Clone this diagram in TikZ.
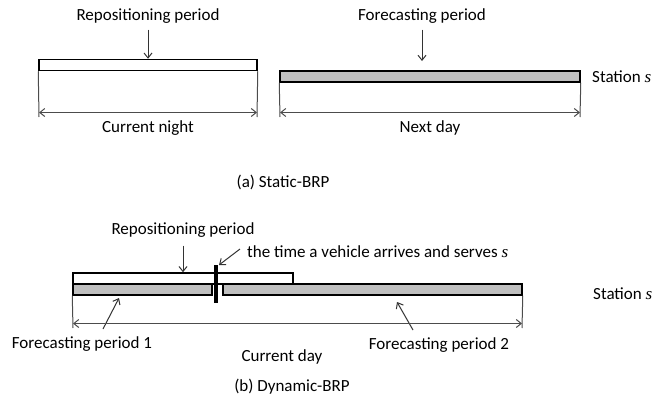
\documentclass[tikz,border=0pt]{standalone}
\usepackage{fontspec}
\setmainfont{Carlito}
\newfontfamily\varfont{Liberation Serif}
\newcommand{\sv}{{\varfont\itshape s}}
\usetikzlibrary{arrows.meta}
\begin{document}
\begin{tikzpicture}[x=1pt,y=-1pt,>={Straight Barb[length=5pt,width=8pt]},font=\fontsize{17}{20}\selectfont]
\useasboundingbox (0,0) rectangle (653,407);
\tikzstyle{every node} = [inner sep=0pt]
\tikzstyle{whitebar} = [draw, line width=1.5pt, fill=white, minimum height=11pt]
\tikzstyle{graybar} = [whitebar, fill=gray!50]
\tikzstyle{dim} = [draw=black!70, line width=1pt]
\tikzstyle{pointer} = [->, draw=black!80, line width=1pt]
% (a) static
\node[whitebar, minimum width=218pt] (night) at (148,65) {};
\node[graybar, minimum width=300pt] (day) at (430,76.5) {};
\node (rp1) at (148,16) {Repositioning period};
\node (fp) at (422,16) {Forecasting period};
\node[anchor=west] (st1) at (592,77) {Station \sv};
\node (cn) at (148,128) {Current night};
\node (nd) at (430,128) {Next day};
\node (capa) at (283,182) {(a) Static-BRP};
\coordinate (fpend) at (422,61);
\coordinate (n1) at (39,117);
\coordinate (n2) at (257,117);
\coordinate (d1) at (280,117);
\coordinate (d2) at (580,117);
\coordinate (n1a) at (39,112.5);
\coordinate (n2a) at (257,112.5);
\coordinate (d1a) at (280,112.5);
\coordinate (d2a) at (580,112.5);
\draw[pointer] (rp1.south) ++(0,6) -- (night.north);
\draw[pointer] (fp.south) ++(0,6) -- (fpend);
\draw[dim] (night.south west) -- (n1);
\draw[dim] (night.south east) -- (n2);
\draw[dim] (day.south west) -- (d1);
\draw[dim] (day.south east) -- (d2);
\draw[dim, <->] (n1a) -- (n2a);
\draw[dim, <->] (d1a) -- (d2a);
% (b) dynamic
\node[whitebar, minimum width=220pt] (rep) at (183,278.5) {};
\node[graybar, minimum width=139pt] (fc1) at (142.5,289.5) {};
\node[graybar, minimum width=299pt] (fc2) at (372.5,289.5) {};
\node[fill=black, minimum width=3.5pt, minimum height=38pt] (veh) at (216,284) {};
\node (rp2) at (183,230) {Repositioning period};
\node[anchor=west] (arr) at (247,252) {the time a vehicle arrives and serves \sv};
\node (fl1) at (82,344) {Forecasting period 1};
\node (fl2) at (439,345) {Forecasting period 2};
\node (cd) at (282,357) {Current day};
\node[anchor=west] (st2) at (593,294) {Station \sv};
\node (capb) at (292,387) {(b) Dynamic-BRP};
\coordinate (arrs) at (240,249);
\coordinate (veht) at (219,265);
\coordinate (f1s) at (103,329);
\coordinate (f1e) at (119,298);
\coordinate (f2s) at (413,330);
\coordinate (f2e) at (397,302);
\coordinate (b1) at (73,328);
\coordinate (b2) at (522,328);
\coordinate (b1a) at (73,323.5);
\coordinate (b2a) at (522,323.5);
\draw[pointer] (rp2.south) ++(0,8) -- (rep.north);
\draw[pointer] (arrs) -- (veht);
\draw[pointer] (f1s) -- (f1e);
\draw[pointer] (f2s) -- (f2e);
\draw[dim] (fc1.south west) -- (b1);
\draw[dim] (fc2.south east) -- (b2);
\draw[dim, <->] (b1a) -- (b2a);
\end{tikzpicture}
\end{document}
